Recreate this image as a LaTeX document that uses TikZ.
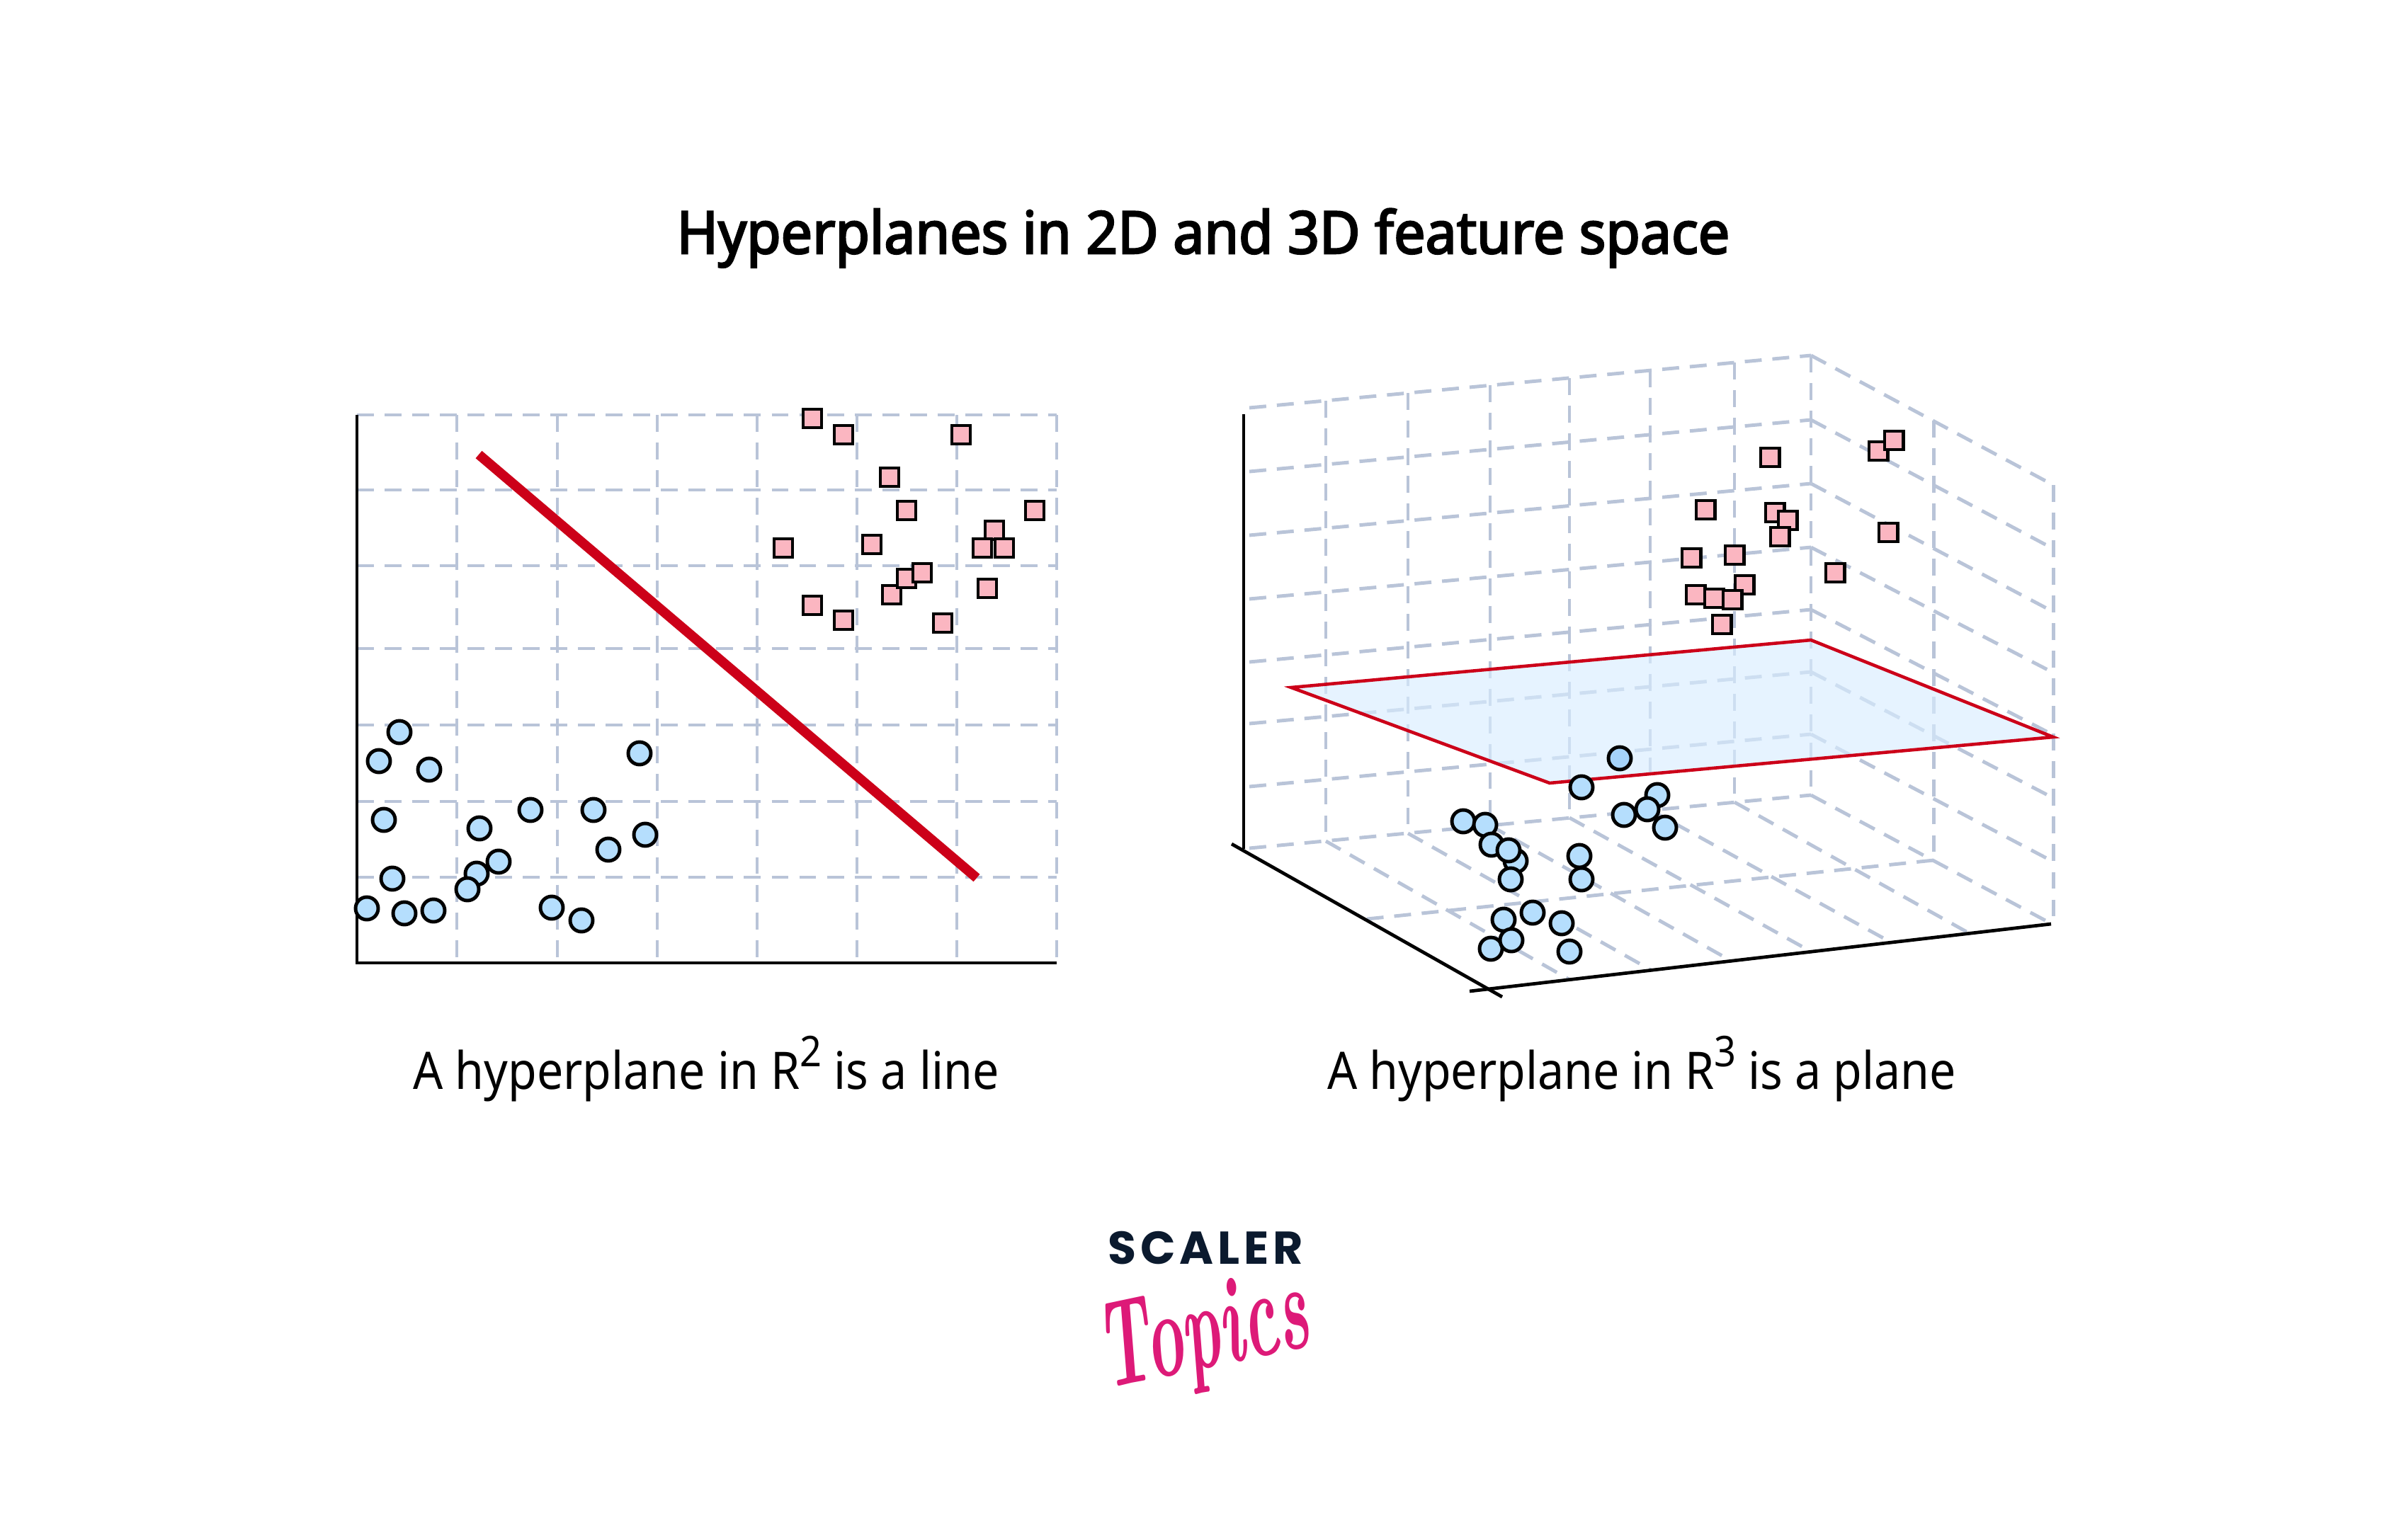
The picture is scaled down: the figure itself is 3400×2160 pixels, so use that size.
\documentclass[tikz,border=0pt]{standalone}
\usepackage{fontspec}
\usepackage{tikz}
\newfontfamily\labelfont{Noto Sans}[FakeStretch=0.905]
\newfontfamily\titlefont{Noto Sans}[FakeBold=3,FakeStretch=0.949]
\newfontfamily\logofont{Poppins}[LetterSpace=9]
\definecolor{gridblue}{HTML}{B9C4D8}
\definecolor{sepred}{HTML}{CC0019}
\definecolor{sqpink}{HTML}{FBB6C1}
\definecolor{dotblue}{HTML}{B5DEFD}
\definecolor{dotdark}{HTML}{A5D3FA}
\definecolor{planeblue}{HTML}{D8EDFF}
\definecolor{logonavy}{HTML}{0B1A2E}
\definecolor{logopink}{HTML}{DD1A78}
\newcommand{\supnum}[1]{\raisebox{9pt}{\fontsize{17}{17}\selectfont #1}}
\tikzset{
  gridline/.style={draw=gridblue, line width=1.4pt, dash pattern=on 6.8pt off 4.3pt},
  axisline/.style={draw=black, line width=1.35pt},
  sqpt/.style={draw=black, fill=sqpink, rectangle, line width=1.4pt, minimum size=7.4pt, inner sep=0pt},
  dotpt/.style={draw=black, fill=dotblue, circle, line width=1.4pt, minimum size=9.1pt, inner sep=0pt},
  caption/.style={anchor=base, inner sep=0pt, font=\labelfont\fontsize{20.8}{24}\selectfont}
}

\begin{document}
\begin{tikzpicture}[x=0.01cm, y=-0.01cm]
    \useasboundingbox (0,0) rectangle (3400,2160);

    \node[anchor=base, inner sep=0pt, font=\titlefont\fontsize{23.6}{28}\selectfont] (title) at (1699,358) {Hyperplanes in 2D and 3D feature space};
    \node[caption] (capl) at (997,1538) {A hyperplane in R\supnum{2} is a line};
    \node[caption] (capr) at (2318,1538) {A hyperplane in R\supnum{3} is a plane};

    % Left grid
    \draw[gridline] (645,586) -- (645,1360) (787,586) -- (787,1360) (928,586) -- (928,1360)
      (1069,586) -- (1069,1360) (1210,586) -- (1210,1360) (1351,586) -- (1351,1360) (1492,586) -- (1492,1360);
    \draw[gridline] (504,586) -- (1492,586) (504,692) -- (1492,692) (504,799) -- (1492,799)
      (504,916) -- (1492,916) (504,1024) -- (1492,1024) (504,1132) -- (1492,1132) (504,1239) -- (1492,1239);

    % Left axes
    \coordinate (ltop) at (504,586);
    \coordinate (lo) at (504,1360);
    \coordinate (lright) at (1492,1360);
    \draw[axisline] (ltop) -- (lo) -- (lright);

    % Separating line
    \coordinate (sepa) at (676,642);
    \coordinate (sepb) at (1379,1240);
    \draw[draw=sepred, line width=3.9pt] (sepa) -- (sepb);

    % Left squares
    \node[sqpt] (ls1) at (1147,591) {};
    \node[sqpt] (ls2) at (1191,614) {};
    \node[sqpt] (ls3) at (1357,614) {};
    \node[sqpt] (ls4) at (1256,674) {};
    \node[sqpt] (ls5) at (1280,721) {};
    \node[sqpt] (ls6) at (1461,721) {};
    \node[sqpt] (ls7) at (1404,749) {};
    \node[sqpt] (ls8) at (1387,774) {};
    \node[sqpt] (ls9) at (1418,774) {};
    \node[sqpt] (ls10) at (1106,774) {};
    \node[sqpt] (ls11) at (1231,769) {};
    \node[sqpt] (ls12) at (1259,840) {};
    \node[sqpt] (ls13) at (1280,817) {};
    \node[sqpt] (ls14) at (1302,809) {};
    \node[sqpt] (ls15) at (1394,831) {};
    \node[sqpt] (ls16) at (1147,855) {};
    \node[sqpt] (ls17) at (1191,876) {};
    \node[sqpt] (ls18) at (1331,880) {};

    % Left dots
    \node[dotpt] (ld1) at (564,1034) {};
    \node[dotpt] (ld2) at (535,1075) {};
    \node[dotpt] (ld3) at (606,1087) {};
    \node[dotpt] (ld4) at (903,1064) {};
    \node[dotpt] (ld5) at (542,1158) {};
    \node[dotpt] (ld6) at (749,1144) {};
    \node[dotpt] (ld7) at (838,1144) {};
    \node[dotpt] (ld8) at (677,1170) {};
    \node[dotpt] (ld9) at (911,1179) {};
    \node[dotpt] (ld10) at (859,1200) {};
    \node[dotpt] (ld11) at (704,1217) {};
    \node[dotpt] (ld12) at (673,1234) {};
    \node[dotpt] (ld13) at (660,1256) {};
    \node[dotpt] (ld14) at (554,1241) {};
    \node[dotpt] (ld15) at (518,1283) {};
    \node[dotpt] (ld16) at (571,1290) {};
    \node[dotpt] (ld17) at (612,1286) {};
    \node[dotpt] (ld18) at (779,1282) {};
    \node[dotpt] (ld19) at (821,1300) {};

    % Back wall
    \draw[gridline] (1764,576) -- (2557,502) (1764,666) -- (2557,593) (1764,756) -- (2557,683) (1764,846) -- (2557,773)
      (1764,935) -- (2557,861) (1764,1022) -- (2557,949) (1764,1111) -- (2557,1037) (1764,1198) -- (2557,1123);
    \draw[gridline] (1872,566) -- (1872,1188) (1988,555) -- (1988,1177) (2104,544) -- (2104,1166) (2216,534) -- (2216,1155)
      (2330,523) -- (2330,1144) (2449,512) -- (2449,1133) (2557,502) -- (2557,1123);

    % Side wall
    \draw[gridline] (2557,502) -- (2899,685) (2557,593) -- (2899,775) (2557,683) -- (2899,864) (2557,773) -- (2899,950)
      (2557,861) -- (2899,1038) (2557,949) -- (2899,1127) (2557,1037) -- (2899,1217) (2557,1123) -- (2899,1306);
    \draw[gridline] (2730,594) -- (2730,1215) (2899,685) -- (2899,1306);

    % Floor
    \draw[gridline] (1872,1188) -- (2215,1383) (1988,1177) -- (2331,1370) (2104,1166) -- (2446,1358) (2216,1155) -- (2559,1345)
      (2330,1144) -- (2672,1332) (2449,1133) -- (2782,1319);
    \draw[gridline] (2730,1215) -- (1930,1298);

    % Right axes
    \coordinate (rtop) at (1756,585);
    \coordinate (rbot) at (1756,1199);
    \coordinate (rla) at (1739,1192);
    \coordinate (rlb) at (2121,1408);
    \coordinate (rfa) at (2075,1400);
    \coordinate (rfb) at (2896,1305);
    \draw[axisline] (rtop) -- (rbot);
    \draw[axisline] (rla) -- (rlb);
    \draw[axisline] (rfa) -- (rfb);

    % Plane
    \coordinate (pa) at (1823,971);
    \coordinate (pb) at (2557,904);
    \coordinate (pc) at (2899,1041);
    \coordinate (pd) at (2188,1106);
    \fill[planeblue, fill opacity=0.65] (pa) -- (pb) -- (pc) -- (pd) -- cycle;
    \draw[draw=sepred, line width=1.3pt] (pa) -- (pb) -- (pc) -- (pd) -- cycle;

    % Right squares
    \node[sqpt] (rs1) at (2499,646) {};
    \node[sqpt] (rs2) at (2652,637) {};
    \node[sqpt] (rs3) at (2674,622) {};
    \node[sqpt] (rs4) at (2408,720) {};
    \node[sqpt] (rs5) at (2506,724) {};
    \node[sqpt] (rs6) at (2524,735) {};
    \node[sqpt] (rs7) at (2513,758) {};
    \node[sqpt] (rs8) at (2666,752) {};
    \node[sqpt] (rs9) at (2388,788) {};
    \node[sqpt] (rs10) at (2449,784) {};
    \node[sqpt] (rs11) at (2591,809) {};
    \node[sqpt] (rs12) at (2463,826) {};
    \node[sqpt] (rs13) at (2394,840) {};
    \node[sqpt] (rs14) at (2420,845) {};
    \node[sqpt] (rs15) at (2446,847) {};
    \node[sqpt] (rs16) at (2431,882) {};

    % Right dots
    \node[dotpt, fill=dotdark] (rd1) at (2287,1071) {};
    \node[dotpt] (rd2) at (2233,1112) {};
    \node[dotpt] (rd3) at (2340,1123) {};
    \node[dotpt] (rd4) at (2293,1151) {};
    \node[dotpt] (rd5) at (2326,1143) {};
    \node[dotpt] (rd6) at (2351,1169) {};
    \node[dotpt] (rd7) at (2066,1160) {};
    \node[dotpt] (rd8) at (2097,1165) {};
    \node[dotpt] (rd9) at (2106,1193) {};
    \node[dotpt] (rd10) at (2140,1216) {};
    \node[dotpt] (rd11) at (2130,1201) {};
    \node[dotpt] (rd12) at (2133,1242) {};
    \node[dotpt] (rd13) at (2230,1209) {};
    \node[dotpt] (rd14) at (2233,1242) {};
    \node[dotpt] (rd15) at (2164,1289) {};
    \node[dotpt] (rd16) at (2123,1299) {};
    \node[dotpt] (rd17) at (2205,1304) {};
    \node[dotpt] (rd18) at (2105,1340) {};
    \node[dotpt] (rd19) at (2134,1328) {};
    \node[dotpt] (rd20) at (2216,1344) {};

    % Logo
    \node[anchor=base, inner sep=0pt, text=logonavy, font=\logofont\bfseries\fontsize{18.5}{20}\selectfont] (scaler) at (1702,1785) {SCALER};
    \node[inner sep=0pt, text=logopink, rotate=12, font=\bfseries\itshape\fontsize{26}{30}\selectfont] (topics) at (1700,1890) {\scalebox{1}[1.9]{Topics}};
\end{tikzpicture}
\end{document}
